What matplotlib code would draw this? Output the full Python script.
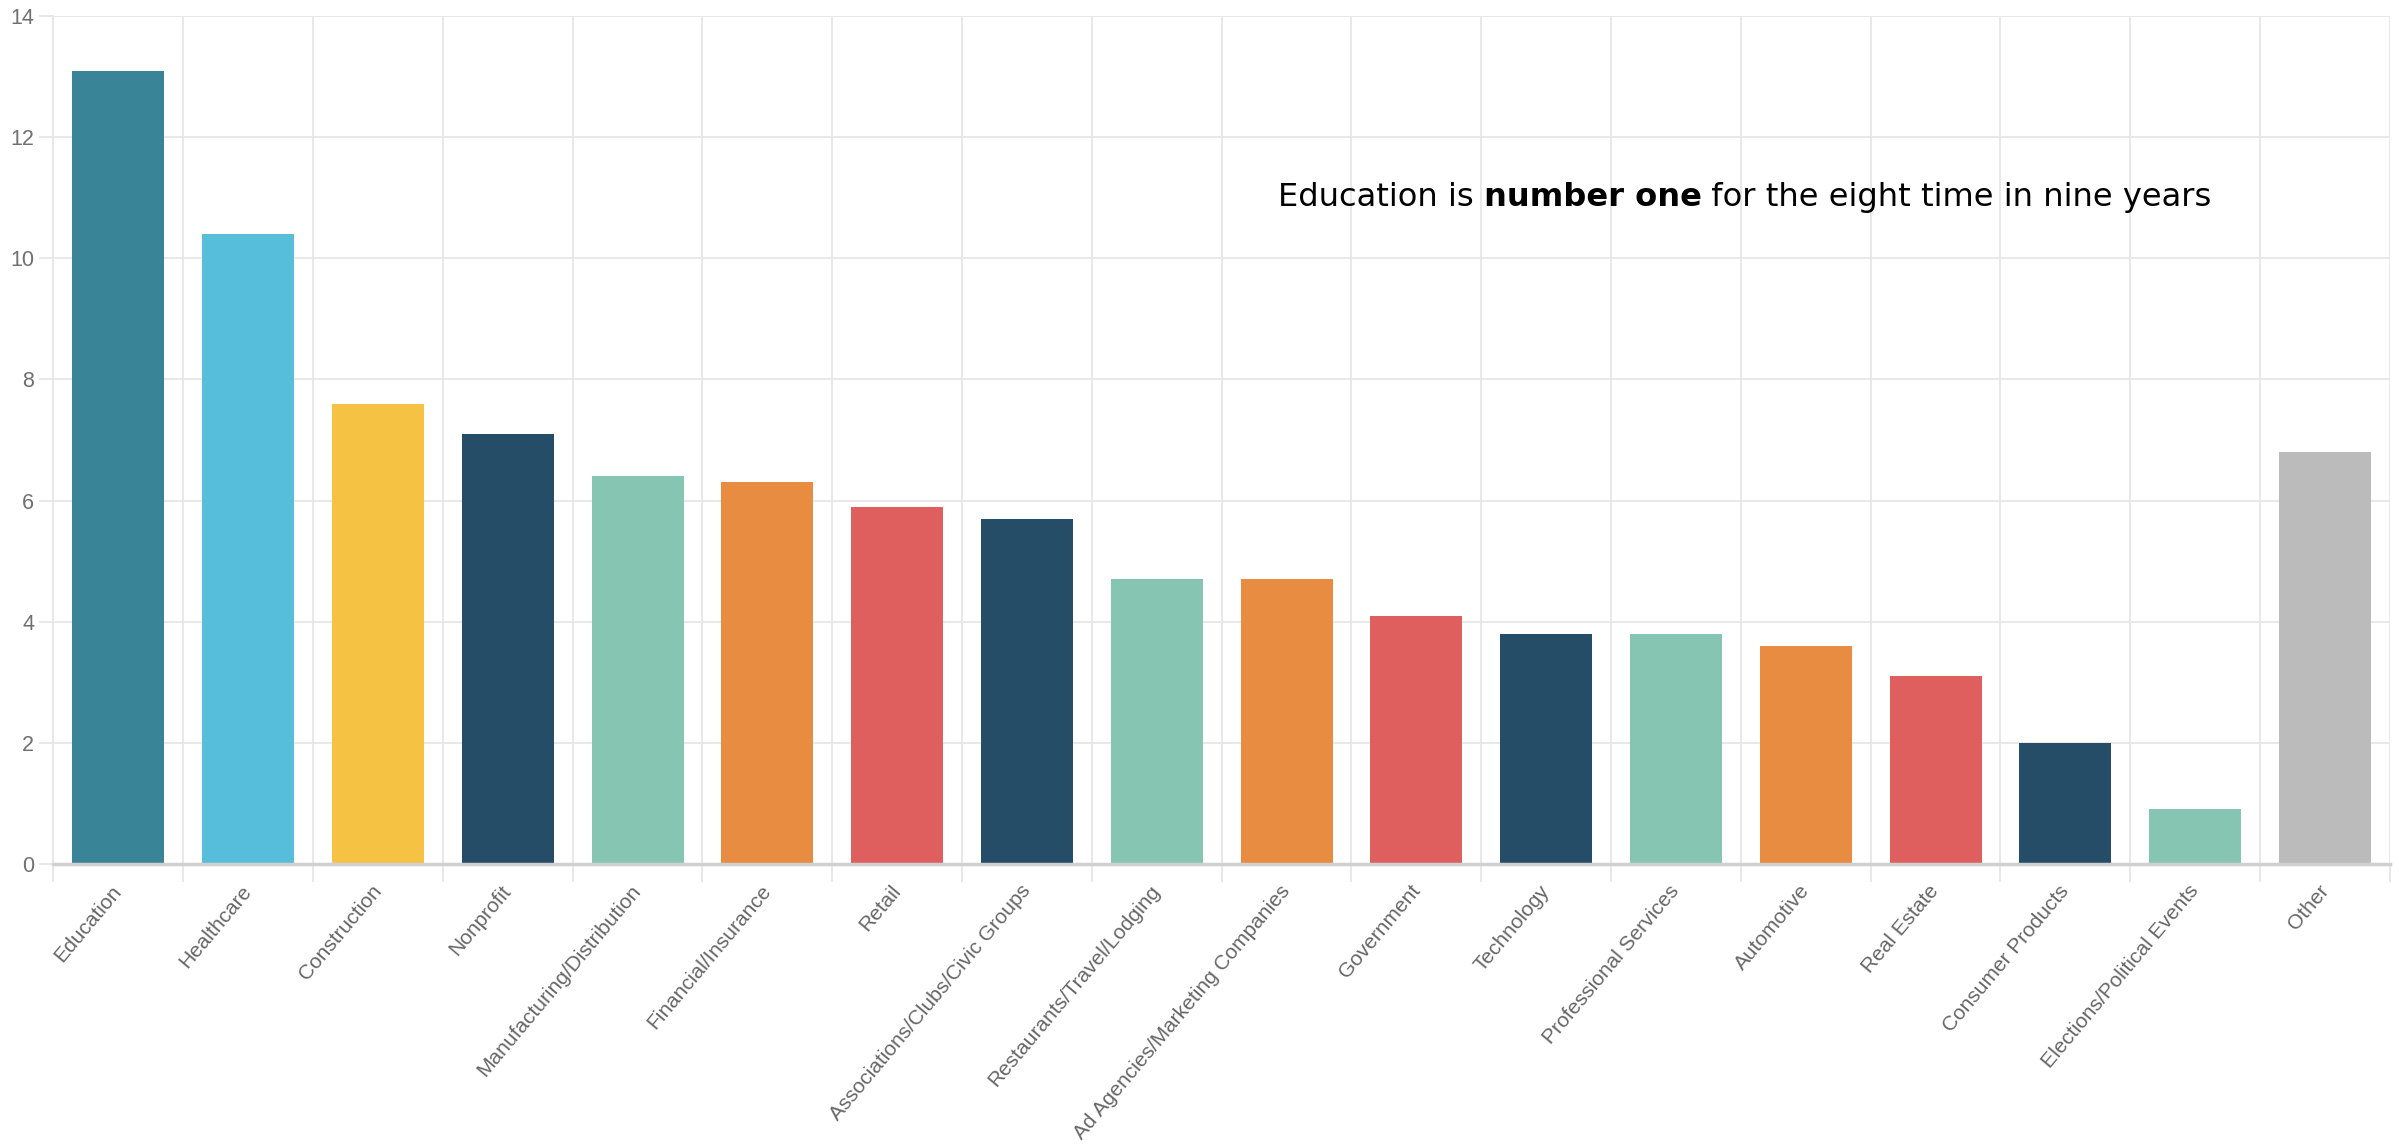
import matplotlib
matplotlib.use('Agg')
import matplotlib.pyplot as plt
import numpy as np

# Datos del gráfico
categories = ['Education', 'Healthcare', 'Construction', 'Nonprofit',
              'Manufacturing/Distribution', 'Financial/Insurance', 'Retail',
              'Associations/Clubs/Civic Groups', 'Restaurants/Travel/Lodging',
              'Ad Agencies/Marketing Companies', 'Government', 'Technology',
              'Professional Services', 'Automotive', 'Real Estate',
              'Consumer Products', 'Elections/Political Events', 'Other']
values = [13.1, 10.4, 7.6, 7.1, 6.4, 6.3, 5.9, 5.7, 4.7, 4.7, 4.1, 3.8,
          3.8, 3.6, 3.1, 2.0, 0.9, 6.8]
y_ticks = [0, 2, 4, 6, 8, 10, 12, 14]

teal = '#3A8497'
sky = '#56BEDB'
yellow = '#F5C243'
navy = '#264D67'
mint = '#86C5B1'
orange = '#E88C41'
red = '#DF5F5E'
grey = '#BBBBBB'
colors = [teal, sky, yellow, navy, mint, orange, red, navy, mint, orange,
          red, navy, mint, orange, red, navy, mint, grey]

fig = plt.figure(figsize=(23.99, 11.44), dpi=100)
ax = fig.add_axes([0.0223, 0.2448, 0.9739, 0.7412])

x = np.arange(len(categories))
ax.bar(x, values, width=0.71, color=colors, zorder=3)

ax.set_xlim(-0.5, len(categories) - 0.5)
ax.set_ylim(0, 14)

grid_col = '#e6e6e6'
# lineas verticales entre categorías (estilo Chart.js)
ax.set_xticks(np.arange(len(categories) + 1) - 0.5, minor=True)
ax.set_xticks(x)
ax.set_xticklabels(categories, rotation=50, ha='right', va='center',
                   rotation_mode='anchor', fontsize=15, color='#666666',
                   family='Liberation Sans')
ax.tick_params(axis='x', which='major', length=0, pad=17)
ax.tick_params(axis='x', which='minor', length=13, width=1.3, color=grid_col)
ax.grid(axis='x', which='minor', color=grid_col, linewidth=1.3, zorder=0)

ax.set_yticks(y_ticks)
ax.set_yticklabels([str(t) for t in y_ticks], fontsize=15.5, color='#707070',
                   family='Liberation Sans')
ax.tick_params(axis='y', length=10, width=1.3, color=grid_col, pad=4)
ax.grid(axis='y', color=grid_col, linewidth=1.3, zorder=0)

for s in ['top', 'right']:
    ax.spines[s].set_visible(False)
ax.spines['left'].set_color(grid_col)
ax.spines['left'].set_linewidth(1.3)
ax.spines['bottom'].set_color('#d0d0d0')
ax.spines['bottom'].set_linewidth(2.5)
ax.spines['bottom'].set_zorder(4)

# Anotación con parte en negrita
fig.canvas.draw()
renderer = fig.canvas.get_renderer()
parts = [('Education is ', 'normal'), ('number one', 'bold'),
         (' for the eight time in nine years', 'normal')]
tx, ty = 8.93, 11.0
for txt, w in parts:
    t = ax.text(tx, ty, txt, fontsize=23.1, fontweight=w, va='center',
                ha='left', color='black', family='DejaVu Sans', zorder=5)
    bb = t.get_window_extent(renderer=renderer)
    x_end = ax.transData.inverted().transform((bb.x1, bb.y0))[0]
    tx = x_end

fig.savefig('out.png', dpi=100, facecolor='white')
